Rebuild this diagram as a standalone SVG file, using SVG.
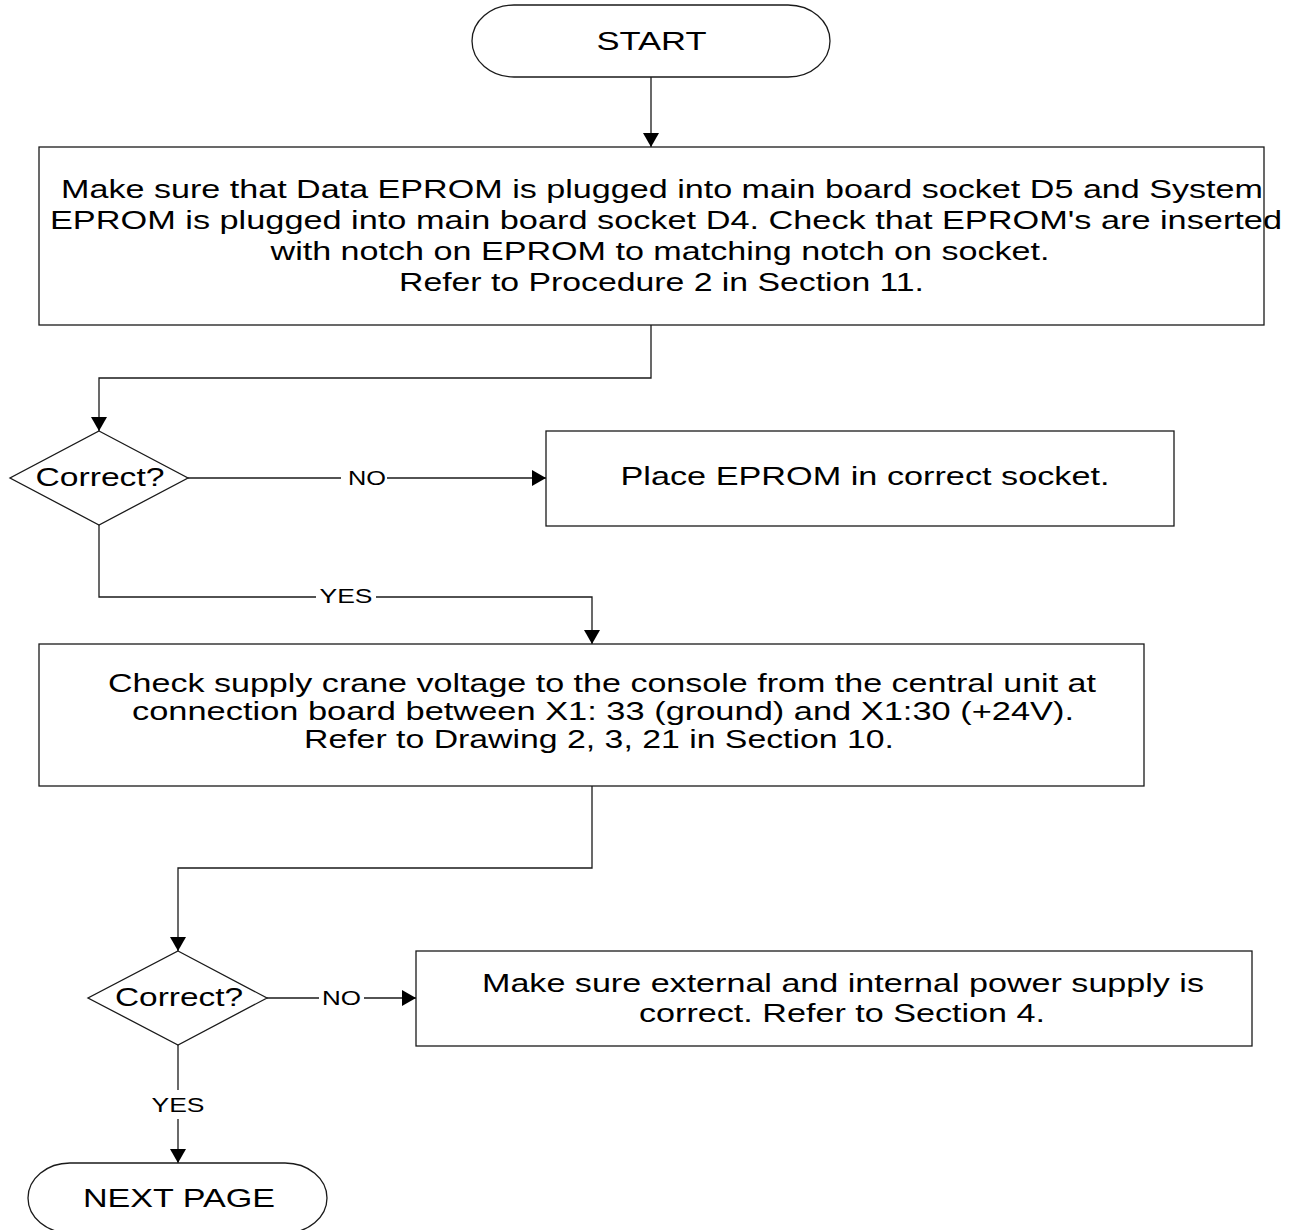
<svg xmlns="http://www.w3.org/2000/svg" width="1299" height="1230" viewBox="0 0 1299 1230">
<style>
.shape{fill:#fff;stroke:#1a1a1a;stroke-width:1.3}
.line{fill:none;stroke:#1a1a1a;stroke-width:1.3}
.t{font-family:"Liberation Sans",Arial,sans-serif;font-size:26px;fill:#000;text-anchor:middle}
.lbl{font-family:"Liberation Sans",Arial,sans-serif;font-size:21px;fill:#000;text-anchor:middle}
.bg{fill:#fff;stroke:none}
</style>
<defs>
<marker id="arr" markerWidth="14" markerHeight="16" refX="14" refY="8" orient="auto" markerUnits="userSpaceOnUse">
<path d="M0,0 L14,8 L0,16 z" fill="#000"/>
</marker>
</defs>
<rect width="1299" height="1230" fill="#fff"/>

<g id="connectors">
<path class="line" d="M651,77 L651,147" marker-end="url(#arr)"/>
<path class="line" d="M651,325 L651,378 L99,378 L99,431" marker-end="url(#arr)"/>
<path class="line" d="M188,478 L546,478" marker-end="url(#arr)"/>
<path class="line" d="M99,525 L99,597 L592,597 L592,644" marker-end="url(#arr)"/>
<path class="line" d="M592,786 L592,868 L178,868 L178,951" marker-end="url(#arr)"/>
<path class="line" d="M267,998 L416,998" marker-end="url(#arr)"/>
<path class="line" d="M178,1045 L178,1163" marker-end="url(#arr)"/>
<rect class="bg" x="341" y="468" width="46" height="20"/>
<text class="lbl" x="367" y="485" textLength="38" lengthAdjust="spacingAndGlyphs">NO</text>
<rect class="bg" x="316" y="587" width="60" height="20"/>
<text class="lbl" x="346" y="603" textLength="53" lengthAdjust="spacingAndGlyphs">YES</text>
<rect class="bg" x="319" y="988" width="45" height="20"/>
<text class="lbl" x="341.5" y="1005" textLength="39" lengthAdjust="spacingAndGlyphs">NO</text>
<rect class="bg" x="150" y="1090" width="56" height="29"/>
<text class="lbl" x="178" y="1112" textLength="53" lengthAdjust="spacingAndGlyphs">YES</text>
</g>

<g id="start">
<rect class="shape" x="472" y="5" width="358" height="72" rx="42" ry="36"/>
<text class="t" x="651.5" y="50" textLength="110" lengthAdjust="spacingAndGlyphs">START</text>
</g>

<g id="box1">
<rect class="shape" x="39" y="147" width="1225" height="178"/>
<text class="t" x="662" y="198" textLength="1202" lengthAdjust="spacingAndGlyphs">Make sure that Data EPROM is plugged  into main board socket D5 and System</text>
<text class="t" x="666" y="229" textLength="1232" lengthAdjust="spacingAndGlyphs">EPROM is plugged into main board socket D4.  Check that EPROM's are inserted</text>
<text class="t" x="660" y="260" textLength="779" lengthAdjust="spacingAndGlyphs">with notch on EPROM to matching notch on socket.</text>
<text class="t" x="661.5" y="291" textLength="525" lengthAdjust="spacingAndGlyphs">Refer to Procedure 2 in Section 11.</text>
</g>

<g id="decision1">
<polygon class="shape" points="99,431 188,478 99,525 10,478"/>
<text class="t" x="100" y="486" textLength="129" lengthAdjust="spacingAndGlyphs">Correct?</text>
</g>

<g id="box2">
<rect class="shape" x="546" y="431" width="628" height="95"/>
<text class="t" x="865" y="485" textLength="489" lengthAdjust="spacingAndGlyphs">Place EPROM in correct socket.</text>
</g>

<g id="box3">
<rect class="shape" x="39" y="644" width="1105" height="142"/>
<text class="t" x="602" y="692" textLength="988" lengthAdjust="spacingAndGlyphs">Check supply crane voltage to the console from the central unit at</text>
<text class="t" x="603" y="720" textLength="942" lengthAdjust="spacingAndGlyphs">connection board  between X1: 33 (ground) and X1:30 (+24V).</text>
<text class="t" x="599" y="748" textLength="590" lengthAdjust="spacingAndGlyphs">Refer to Drawing 2, 3, 21 in Section 10.</text>
</g>

<g id="decision2">
<polygon class="shape" points="178,951 267,998 178,1045 88,998"/>
<text class="t" x="179" y="1006" textLength="128" lengthAdjust="spacingAndGlyphs">Correct?</text>
</g>

<g id="box4">
<rect class="shape" x="416" y="951" width="836" height="95"/>
<text class="t" x="843" y="992" textLength="722" lengthAdjust="spacingAndGlyphs">Make sure external and internal power supply is</text>
<text class="t" x="842" y="1022" textLength="406" lengthAdjust="spacingAndGlyphs">correct. Refer to Section 4.</text>
</g>

<g id="nextpage">
<rect class="shape" x="28" y="1163" width="299" height="70" rx="42" ry="35"/>
<text class="t" x="179" y="1207" textLength="192" lengthAdjust="spacingAndGlyphs">NEXT PAGE</text>
</g>
</svg>
